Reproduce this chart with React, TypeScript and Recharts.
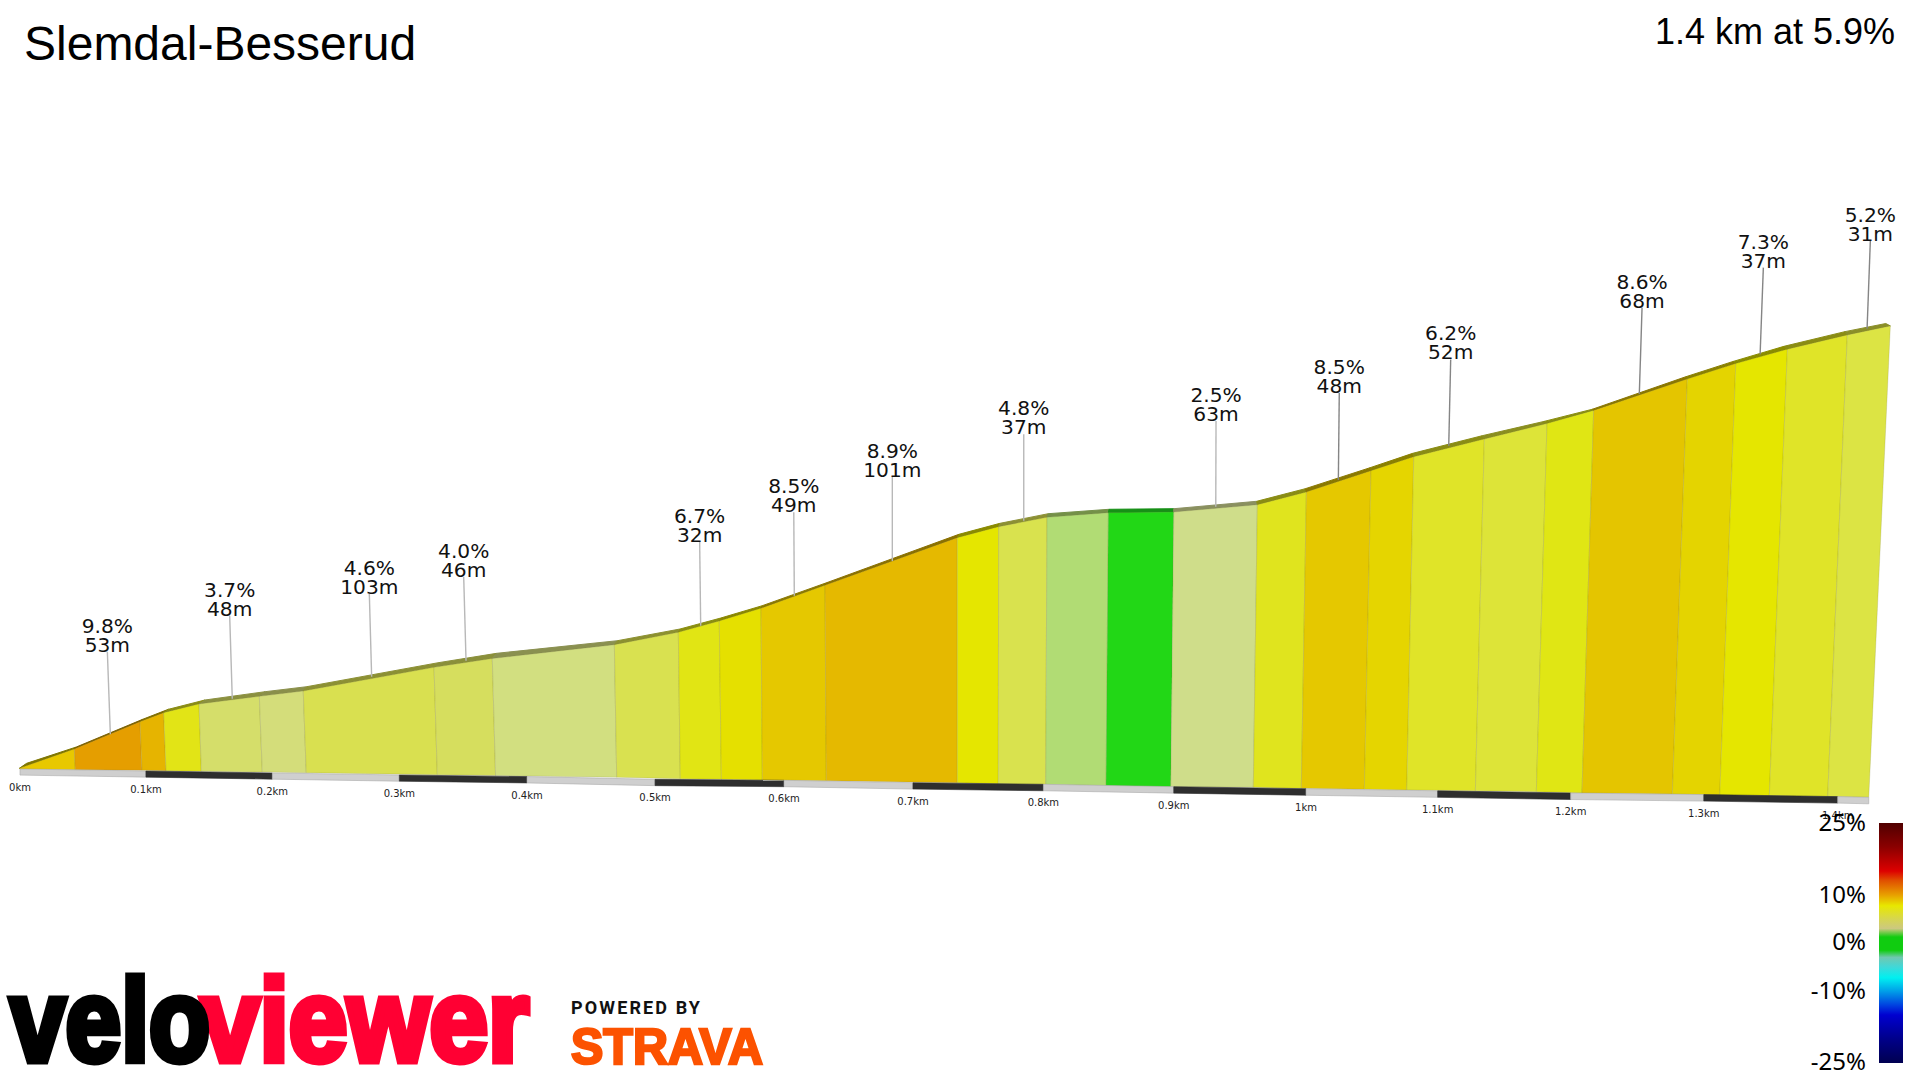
import { ScatterChart, Scatter, XAxis, YAxis } from "recharts";

// Distances (m along the drawing) and elevations (m).
const topDist = [-0.5, 41.8, 92.3, 110.5, 137.7, 184.1, 217.9, 318.5, 363.3, 457.2, 506.4, 537.9, 570, 619.2, 721, 752.8, 790, 837.2, 887.5, 951.8, 989.5, 1039.2, 1072.1, 1126.4, 1174.6, 1210.5, 1282.5, 1319.8, 1359.5, 1405.6, 1438.7];
const topElev = [0.12, 3.45, 8.16, 9.71, 11.21, 12.53, 13.45, 17.53, 19.05, 21.43, 23.57, 25.52, 27.71, 31.67, 39.88, 41.78, 43.4, 44.19, 44.31, 45.57, 47.76, 51.43, 53.84, 56.9, 59.57, 61.83, 67.24, 69.91, 72.38, 74.84, 76.4];
const baseDist = [0, 42.5, 93.8, 112.3, 139.5, 186.4, 220.2, 321, 365.8, 459, 507.9, 539.5, 571, 620.2, 721, 752.5, 789, 835.4, 885.2, 948.7, 985.6, 1034.1, 1066.7, 1119.5, 1166.4, 1201.5, 1271, 1307.5, 1345.6, 1390.5, 1422.1];
const baseElev = [0, -0.12, -0.22, -0.29, -0.4, -0.52, -0.64, -0.98, -1.14, -1.43, -1.67, -1.78, -1.9, -2.02, -2.36, -2.53, -2.64, -2.88, -3.05, -3.16, -3.33, -3.5, -3.62, -3.76, -3.9, -4.12, -4.31, -4.47, -4.6, -4.74, -4.88];
const rimDist = [5.1, 43.3, 94.4, 114.1, 142.3, 188.5, 220.5, 321.8, 366.7, 459.5, 507.7, 539, 571, 620.5, 722.3, 753.8, 791, 837.7, 887.5, 951.3, 988.7, 1038.5, 1071.3, 1124.8, 1172.3, 1209.5, 1280.8, 1317.9, 1356.9, 1403.8, 1435.2];
const rimElev = [0.98, 3.79, 8.57, 10.29, 11.9, 13.33, 14.19, 18.33, 19.95, 22.12, 24.14, 26.03, 28.16, 32.12, 40.47, 42.36, 44.02, 44.78, 44.88, 46.16, 48.33, 51.95, 54.43, 57.47, 59.93, 62.03, 67.59, 70.28, 72.88, 75.41, 76.81];

const faceColors = ["#E8C800", "#E59E00", "#E6B400", "#E2E416", "#D5DE6A", "#D4DD7A", "#D9E050", "#D6DE5E", "#D2DF80", "#D9E150", "#E1E514", "#E5E000", "#E5C800", "#E5B900", "#E5E600", "#D9E24E", "#B1DC74", "#22D716", "#CFDD8A", "#E0E41E", "#E5C800", "#E5D500", "#E0E428", "#DDE438", "#E0E614", "#E4C500", "#E4D400", "#E5E600", "#E0E428", "#DCE444"];
const rimColors = ["#7F7600", "#7E6100", "#806E00", "#8A8C14", "#8B9040", "#8A8F4A", "#8C9034", "#8A8F3A", "#8A9050", "#8C9030", "#8A8E10", "#8A8700", "#8A7800", "#8A7000", "#8A8A00", "#8C9034", "#749048", "#169016", "#8A9060", "#8A8C14", "#8A7800", "#8A8000", "#8A8C14", "#8A8E20", "#8A8E10", "#8A7600", "#8A8000", "#8A8C00", "#8A8C14", "#8A8E28"];

const roadDist = [0, 96.9, 194.1, 291.8, 390, 488.5, 587.7, 686.9, 787.2, 887.5, 989.2, 1090.5, 1192.8, 1295.2, 1398.2, 1422.1];
const roadTop = [0, -0.34, -0.69, -1.03, -1.31, -1.78, -1.95, -2.36, -2.64, -3.05, -3.4, -3.76, -4.14, -4.41, -4.76, -4.88];
const roadBottom = [-1.05, -1.4, -1.75, -2.1, -2.4, -2.87, -3.05, -3.46, -3.75, -4.16, -4.52, -4.88, -5.26, -5.53, -5.88, -6];
const tickLabels = ["0km", "0.1km", "0.2km", "0.3km", "0.4km", "0.5km", "0.6km", "0.7km", "0.8km", "0.9km", "1km", "1.1km", "1.2km", "1.3km", "1.4km"];

const gradeLabels = ["9.8%", "3.7%", "4.6%", "4.0%", "6.7%", "8.5%", "8.9%", "4.8%", "2.5%", "8.5%", "6.2%", "8.6%", "7.3%", "5.2%"];
const lengthLabels = ["53m", "48m", "103m", "46m", "32m", "49m", "101m", "37m", "63m", "48m", "52m", "68m", "37m", "31m"];
const footDist = [69.5, 163.3, 270.5, 343.1, 523.6, 595.6, 671, 772.1, 919.8, 1014.1, 1099, 1245.6, 1338.5, 1420.8];
const footElev = [5.98, 12.12, 15.91, 18.67, 24.71, 29.88, 35.86, 42.81, 45.22, 49.83, 55.71, 64.66, 71.47, 75.9];
const headDist = [67.2, 161.3, 268.7, 341.3, 522.8, 595.2, 671, 772.1, 920, 1014.8, 1100.5, 1247.7, 1341, 1423.3];
const headElev = [20.22, 26.43, 30.26, 33.14, 39.22, 44.26, 50.34, 57.71, 60, 64.83, 70.62, 79.55, 86.45, 91.03];

const legendTicks = ["25%", "10%", "0%", "-10%", "-25%"];
const legendY = [831, 902.7, 950.3, 998.7, 1070.3];

const noMark = () => <g />;
const quad = (d: number[], h: number[], d2: number[], h2: number[], i: number) => [
  { d: d[i], h: h[i] },
  { d: d[i + 1], h: h[i + 1] },
  { d: d2[i + 1], h: h2[i + 1] },
  { d: d2[i], h: h2[i] },
];

const LEGEND_GRADIENT =
  "linear-gradient(to bottom,#500000 0%,#8b0000 10%,#dd0000 20%,#e05000 24%,#e8a000 30%,#e8e800 34.5%,#d6d650 40%,#ccc880 44%,#10cc10 47.5%,#10cc10 53%,#70c8b0 56%,#40d8d8 60%,#00f0f0 64.5%,#00a0e8 70%,#0040e0 76%,#0000d0 80%,#00008a 90%,#000050 100%)";

export default function App() {
  return (
    <div style={{ position: "absolute", left: 0, top: 0, width: 1920, height: 1080, background: "#fff", overflow: "hidden" }}>
      <ScatterChart width={1920} height={1080} margin={{ top: 0, right: 0, bottom: 0, left: 0 }}>
        <XAxis type="number" dataKey="d" domain={[-15.38, 1461.5]} allowDataOverflow hide />
        <YAxis type="number" dataKey="h" domain={[-53.62, 132.59]} allowDataOverflow hide />

        {rimColors.map((c, i) => (
          <Scatter
            key={"rim" + i}
            data={quad(rimDist, rimElev, topDist, topElev, i)}
            line={{ fill: c, stroke: c, strokeWidth: 1 }}
            lineJointType="linearClosed"
            shape={noMark}
            isAnimationActive={false}
          />
        ))}
        {faceColors.map((c, i) => (
          <Scatter
            key={"face" + i}
            data={quad(topDist, topElev, baseDist, baseElev, i)}
            line={{ fill: c, stroke: "#77773A", strokeOpacity: 0.2, strokeWidth: 1 }}
            lineJointType="linearClosed"
            shape={noMark}
            isAnimationActive={false}
          />
        ))}
        {roadDist.slice(0, -1).map((_, i) => (
          <Scatter
            key={"road" + i}
            data={quad(roadDist, roadTop, roadDist, roadBottom, i)}
            line={{ fill: i % 2 ? "#2E2E2E" : "#CFCFCF", stroke: i % 2 ? "#2E2E2E" : "#ABABAB", strokeWidth: 0.6 }}
            lineJointType="linearClosed"
            shape={noMark}
            isAnimationActive={false}
          />
        ))}
        <Scatter
          data={tickLabels.map((_, i) => ({ d: roadDist[i], h: roadTop[i], label: tickLabels[i] }))}
          shape={(p: any) => (
            <text x={p.cx} y={p.cy + 22} textAnchor="middle" fontFamily="DejaVu Sans" fontSize={10} fill="#222">
              {p.payload.label}
            </text>
          )}
          isAnimationActive={false}
        />
        {gradeLabels.map((_, i) => (
          <Scatter
            key={"leader" + i}
            data={[
              { d: footDist[i], h: footElev[i] },
              { d: headDist[i], h: headElev[i] },
            ]}
            line={{ stroke: i < 9 ? "#B8B8B8" : "#858585", strokeWidth: 1.4 }}
            shape={noMark}
            isAnimationActive={false}
          />
        ))}
        <Scatter
          data={gradeLabels.map((_, i) => ({ d: headDist[i], h: headElev[i], grade: gradeLabels[i], len: lengthLabels[i] }))}
          shape={(p: any) => (
            <text textAnchor="middle" fontFamily="DejaVu Sans" fontSize={20.2} fill="#111">
              <tspan x={p.cx} y={p.cy - 19}>{p.payload.grade}</tspan>
              <tspan x={p.cx} y={p.cy}>{p.payload.len}</tspan>
            </text>
          )}
          isAnimationActive={false}
        />
      </ScatterChart>

      <div style={{ position: "absolute", left: 1879, top: 823, width: 24, height: 240, background: LEGEND_GRADIENT }} />

      <svg width={1920} height={1080} style={{ position: "absolute", left: 0, top: 0, pointerEvents: "none" }}>
        <text x={24} y={60} fontFamily="Liberation Sans" fontSize={48} fill="#000">Slemdal-Besserud</text>
        <text x={1895} y={43.5} textAnchor="end" fontFamily="Liberation Sans" fontSize={36} fill="#000">1.4 km at 5.9%</text>
        {legendTicks.map((t, i) => (
          <text key={t} x={1866} y={legendY[i]} textAnchor="end" fontFamily="Noto Sans" fontSize={24} fill="#000">{t}</text>
        ))}
        <text x={201} y={1061} fontFamily="Liberation Sans" fontWeight="bold" fontSize={116} fill="#FF0033" stroke="#FF0033" strokeWidth={7} textLength={328} lengthAdjust="spacingAndGlyphs">viewer</text>
        <text x={10} y={1061} fontFamily="Liberation Sans" fontWeight="bold" fontSize={116} fill="#000" stroke="#000" strokeWidth={7} textLength={200} lengthAdjust="spacingAndGlyphs">velo</text>
        <text x={571} y={1014} fontFamily="Roboto" fontWeight="bold" fontSize={18} fill="#111" textLength={129} lengthAdjust="spacing">POWERED BY</text>
        <text x={571} y={1064} fontFamily="Liberation Sans" fontWeight="bold" fontSize={50} fill="#FC5200" stroke="#FC5200" strokeWidth={2.5} textLength={192} lengthAdjust="spacingAndGlyphs">STRAVA</text>
      </svg>
    </div>
  );
}
